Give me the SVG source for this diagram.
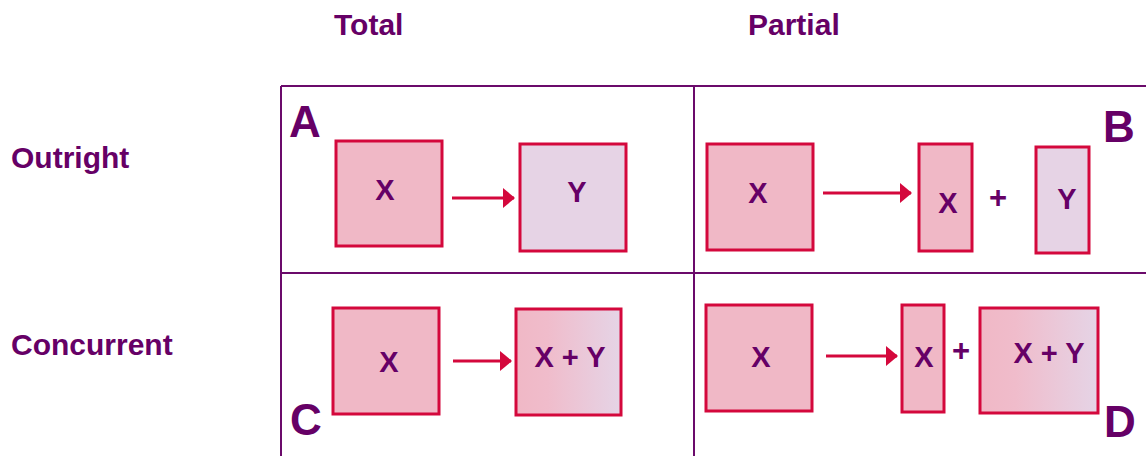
<svg xmlns="http://www.w3.org/2000/svg" width="1146" height="456" viewBox="0 0 1146 456">
<style>
.t{font-family:"Liberation Sans",Arial,sans-serif;font-weight:bold;fill:#660066}
.hd{font-size:30px}
.lt{font-size:44px}
.in{font-size:29px;text-anchor:middle}
.pl{font-size:31px;text-anchor:middle}
.grid{stroke:#6b0a6b;stroke-width:2;fill:none}
.bx{stroke:#d4083c;stroke-width:3}
.pk{fill:#f0b8c6}
.lv{fill:#e6d3e5}
.gr{fill:url(#g)}
.ar{stroke:#d4083c;stroke-width:3;fill:none;marker-end:url(#ah)}
</style>
<defs>
<linearGradient id="g" x1="0" y1="0" x2="1" y2="0">
<stop offset="0" stop-color="#f0b8c6"/>
<stop offset="0.3" stop-color="#f0bccb"/>
<stop offset="1" stop-color="#e5d4e6"/>
</linearGradient>
<marker id="ah" markerUnits="userSpaceOnUse" markerWidth="12" markerHeight="20" refX="11" refY="10" orient="auto">
<path d="M0,0 L12,10 L0,20 Z" fill="#d4083c"/>
</marker>
</defs>
<g id="headers">
<text class="t hd" x="334" y="35">Total</text>
<text class="t hd" x="748" y="35">Partial</text>
<text class="t hd" x="11" y="168">Outright</text>
<text class="t hd" x="11" y="355">Concurrent</text>
</g>
<g id="grid">
<line class="grid" x1="281" y1="86" x2="1146" y2="86"/>
<line class="grid" x1="281" y1="273" x2="1146" y2="273"/>
<line class="grid" x1="281" y1="86" x2="281" y2="456"/>
<line class="grid" x1="694" y1="86" x2="694" y2="456"/>
</g>
<g id="letters">
<text class="t lt" x="289" y="137">A</text>
<text class="t lt" x="1103" y="142">B</text>
<text class="t lt" x="290" y="435">C</text>
<text class="t lt" x="1104" y="437">D</text>
</g>
<g id="nodeA-X"><rect class="bx pk" x="336" y="141" width="106" height="105"/><text class="t in" x="385" y="200">X</text></g>
<g id="nodeA-Y"><rect class="bx lv" x="520" y="144" width="106" height="107"/><text class="t in" x="577" y="202">Y</text></g>
<g id="nodeB-X"><rect class="bx pk" x="707" y="144" width="106" height="106"/><text class="t in" x="758" y="203">X</text></g>
<g id="nodeB-X2"><rect class="bx pk" x="919" y="144" width="53" height="107"/><text class="t in" x="948" y="213">X</text></g>
<g id="nodeB-Y"><rect class="bx lv" x="1036" y="147" width="53" height="106"/><text class="t in" x="1067" y="209">Y</text></g>
<g id="nodeC-X"><rect class="bx pk" x="333" y="308" width="106" height="106"/><text class="t in" x="389" y="372">X</text></g>
<g id="nodeC-XY"><rect class="bx gr" x="516" y="309" width="105" height="106"/><text class="t in" x="570" y="367">X + Y</text></g>
<g id="nodeD-X"><rect class="bx pk" x="706" y="305" width="106" height="106"/><text class="t in" x="761" y="367">X</text></g>
<g id="nodeD-X2"><rect class="bx pk" x="902" y="305" width="42" height="107"/><text class="t in" x="924" y="367">X</text></g>
<g id="nodeD-XY"><rect class="bx gr" x="980" y="308" width="118" height="105"/><text class="t in" x="1049" y="363">X + Y</text></g>
<g id="plus">
<text class="t pl" x="998" y="208">+</text>
<text class="t pl" x="961" y="361">+</text>
</g>
<g id="connectors">
<line class="ar" x1="452" y1="198" x2="514" y2="198"/>
<line class="ar" x1="823" y1="193" x2="911" y2="193"/>
<line class="ar" x1="453" y1="361" x2="511" y2="361"/>
<line class="ar" x1="826" y1="356" x2="897" y2="356"/>
</g>
</svg>
